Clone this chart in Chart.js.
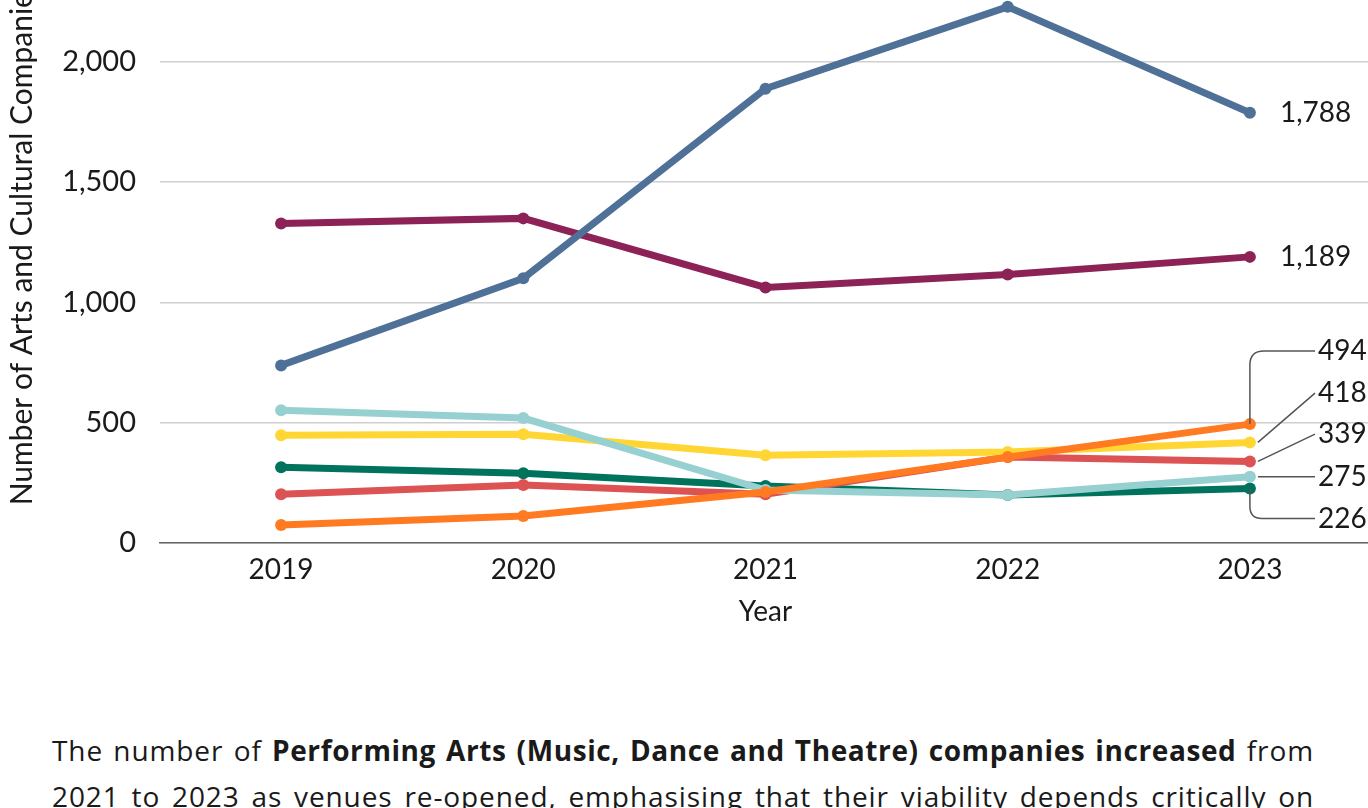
<!DOCTYPE html>
<html>
<head>
<meta charset="utf-8">
<script src="https://cdn.jsdelivr.net/npm/chart.js@4/dist/chart.umd.min.js"></script>
<style>
  html, body { margin: 0; padding: 0; background: #fff; }
  body { width: 1368px; height: 808px; overflow: hidden; position: relative; font-family: Lato, "Open Sans", sans-serif; }
  .chart-wrap { position: absolute; left: 0; top: -100px; width: 1368px; height: 743px; overflow: hidden; }
  .chart-wrap canvas { position: absolute; left: 0; top: 0; }
  .note {
    position: absolute; left: 52px; top: 727px; width: 1262px; margin: 0;
    font-family: "Open Sans", Lato, sans-serif;
    font-size: 28px; line-height: 46px; letter-spacing: 0.9px; color: #1a1a1a;
    text-align: justify; text-align-last: justify;
  }
  .note b { font-weight: 700; letter-spacing: 0.6px; }
</style>
</head>
<body>
<div class="chart-wrap"><canvas id="companies" width="1377" height="743"></canvas></div>
<p class="note">The number of <b>Performing Arts (Music, Dance and Theatre) companies increased</b> from<br>2021 to 2023 as venues re-opened, emphasising that their viability depends critically on</p>

<script>
const years = ['2019', '2020', '2021', '2022', '2023'];

const orangeSeries = [75, 112, 212, 357, 494];
const tealSeries = [552, 519, 220, 199, 275];
const yellowSeries = [448, 452, 365, 378, 418];
const redSeries = [203, 241, 203, 357, 339];
const greenSeries = [315, 290, 237, 199, 226];
const blueSeries = [738, 1100, 1888, 2228, 1788];
const purpleSeries = [1328, 1349, 1062, 1116, 1189];

const yTicks = [0, 500, 1000, 1500, 2000, 2500];

function line(data, color) {
  return {
    data: data,
    borderColor: color,
    backgroundColor: color,
    pointBackgroundColor: color,
    pointBorderColor: color,
    borderWidth: 7,
    pointRadius: 6,
    pointBorderWidth: 0,
    tension: 0
  };
}

// first dataset ends up on top
const datasets = [
  line(orangeSeries, '#ff7a21'),
  line(tealSeries, '#97d0d0'),
  line(yellowSeries, '#ffd633'),
  line(redSeries, '#dd5253'),
  line(greenSeries, '#00735d'),
  line(blueSeries, '#4f7198'),
  line(purpleSeries, '#8c2256')
];

// value labels at the right end, with leader lines for the crowded group
const endLabels = {
  id: 'endLabels',
  afterDatasetsDraw(chart) {
    const ctx = chart.ctx;
    const last = years.length - 1;
    const pt = i => chart.getDatasetMeta(i).data[last];
    const fmt = v => v.toLocaleString('en-US');
    ctx.save();
    ctx.font = '28px Lato, "Open Sans", sans-serif';
    ctx.fillStyle = '#1a1a1a';
    ctx.textBaseline = 'middle';
    ctx.textAlign = 'left';

    // blue and purple sit clear of the rest
    [5, 6].forEach(i => {
      const p = pt(i);
      ctx.fillText(fmt(chart.data.datasets[i].data[last]), p.x + 30, p.y);
    });

    const tx = 1318;
    const base = pt(0).y; // orange end point
    ctx.strokeStyle = '#555';
    ctx.lineWidth = 1.5;

    // orange: up, round the corner, across
    const o = pt(0);
    const oY = o.y - 73;
    ctx.beginPath();
    ctx.moveTo(o.x, o.y);
    ctx.lineTo(o.x, oY + 14);
    ctx.quadraticCurveTo(o.x, oY, o.x + 14, oY);
    ctx.lineTo(tx - 3, oY);
    ctx.stroke();
    ctx.fillText(fmt(orangeSeries[last]), tx, oY);

    // yellow and red: slanted leaders
    const y1 = pt(2), r1 = pt(3);
    const yY = base - 31, rY = base + 10;
    ctx.beginPath();
    ctx.moveTo(y1.x + 8, y1.y);
    ctx.lineTo(tx - 3, yY);
    ctx.moveTo(r1.x + 8, r1.y);
    ctx.lineTo(tx - 3, rY);
    ctx.stroke();
    ctx.fillText(fmt(yellowSeries[last]), tx, yY);
    ctx.fillText(fmt(redSeries[last]), tx, rY);

    // teal: straight across
    const t1 = pt(1);
    ctx.beginPath();
    ctx.moveTo(t1.x + 8, t1.y);
    ctx.lineTo(tx - 3, t1.y);
    ctx.stroke();
    ctx.fillText(fmt(tealSeries[last]), tx, t1.y);

    // green: down, round the corner, across
    const g = pt(4);
    const gY = g.y + 30;
    ctx.beginPath();
    ctx.moveTo(g.x, g.y);
    ctx.lineTo(g.x, gY - 12);
    ctx.quadraticCurveTo(g.x, gY, g.x + 12, gY);
    ctx.lineTo(tx - 3, gY);
    ctx.stroke();
    ctx.fillText(fmt(greenSeries[last]), tx, gY);

    ctx.restore();
  }
};

Chart.defaults.font.family = 'Lato, "Open Sans", sans-serif';
Chart.defaults.color = '#1a1a1a';

new Chart(document.getElementById('companies'), {
  type: 'line',
  data: { labels: years, datasets: datasets },
  options: {
    responsive: false,
    animation: false,
    layout: { padding: { top: 10, right: 0, bottom: 0, left: 0 } },
    plugins: {
      legend: { display: false },
      tooltip: { enabled: false }
    },
    scales: {
      x: {
        offset: true,
        grid: { display: false, drawTicks: false },
        border: { display: true, color: '#666', width: 1.5 },
        ticks: { font: { size: 28 }, padding: 10, color: '#1a1a1a' },
        title: { display: true, text: 'Year', font: { size: 28 }, padding: { top: 0, bottom: 14 }, color: '#1a1a1a' },
        afterFit(scale) { scale.height = 100; }
      },
      y: {
        min: 0,
        max: 2500,
        afterBuildTicks(scale) { scale.ticks = yTicks.map(v => ({ value: v })); },
        grid: { color: '#cfcfcf', lineWidth: 1.5, drawTicks: false },
        border: { display: false },
        ticks: {
          font: { size: 29 },
          padding: 24,
          color: '#1a1a1a',
          callback: v => v.toLocaleString('en-US')
        },
        title: { display: true, text: 'Number of Arts and Cultural Companies', font: { size: 30 }, padding: { top: 4, bottom: 0 }, color: '#1a1a1a' },
        afterFit(scale) { scale.width = 160; }
      }
    }
  },
  plugins: [endLabels]
});
</script>
</body>
</html>
